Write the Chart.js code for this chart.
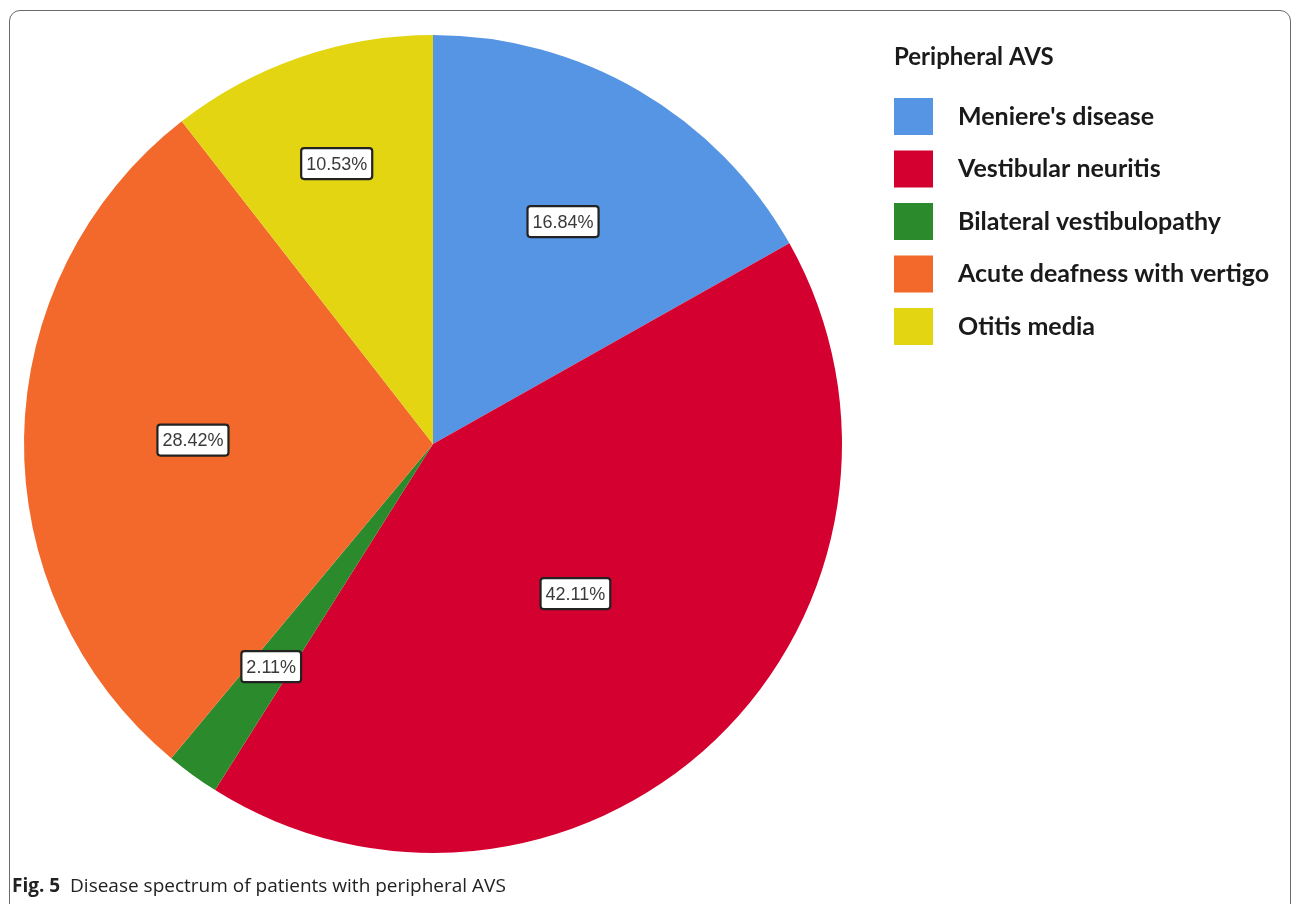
<!DOCTYPE html>
<html>
<head>
<meta charset="utf-8">
<script src="https://cdn.jsdelivr.net/npm/chart.js@4/dist/chart.umd.min.js"></script>
<style>
    html, body { margin: 0; padding: 0; background: #fff; }
    #wrap { position: relative; width: 1295px; height: 904px; overflow: hidden; }
    #frame {
        position: absolute; left: 9px; top: 10px; width: 1282px; height: 920px;
        border: 1.5px solid #6a6a6a; border-radius: 11px; box-sizing: border-box;
    }
    #chart { position: absolute; left: 0; top: 0; }
    #caption {
        position: absolute; left: 12px; top: 872px;
        font-family: "Open Sans", "Noto Sans", sans-serif; font-size: 19px; color: #222;
        white-space: pre;
    }
    #caption b { font-weight: 700; }
</style>
</head>
<body>
<div id="wrap">
    <div id="frame"></div>
    <canvas id="chart" width="1295" height="904"></canvas>
    <div id="caption"><b>Fig. 5</b>  Disease spectrum of patients with peripheral AVS</div>
</div>
<script>
const LEGEND_TITLE = 'Peripheral AVS'
const categories = ['Meniere\'s disease', 'Vestibular neuritis', 'Bilateral vestibulopathy', 'Acute deafness with vertigo', 'Otitis media']
const percents = [16.84, 42.11, 2.11, 28.42, 10.53]
const labelsText = ['16.84%', '42.11%', '2.11%', '28.42%', '10.53%']

const colors = ['#5595e3', '#d4002f', '#2b8a2b', '#f2692b', '#e3d512']
// how far out (fraction of radius) each value box sits
const labelRadius = [0.63, 0.505, 0.673, 0.587, 0.725]

// boxed percentage labels on the slices
const boxLabels = {
    id: 'boxLabels',
    afterDatasetsDraw(chart) {
        const ctx = chart.ctx
        const meta = chart.getDatasetMeta(0)
        ctx.save()
        ctx.font = '18px "Liberation Sans", Arial, sans-serif'
        ctx.textAlign = 'center'
        ctx.textBaseline = 'middle'
        meta.data.forEach((arc, i) => {
            const p = arc.getProps(['x', 'y', 'startAngle', 'endAngle', 'outerRadius'], true)
            const mid = (p.startAngle + p.endAngle) / 2
            const cx = p.x + Math.cos(mid) * p.outerRadius * labelRadius[i]
            const cy = p.y + Math.sin(mid) * p.outerRadius * labelRadius[i]
            const txt = labelsText[i]
            const w = ctx.measureText(txt).width + 10
            const h = 31
            ctx.beginPath()
            ctx.roundRect(cx - w / 2, cy - h / 2, w, h, 3)
            ctx.fillStyle = '#fff'
            ctx.fill()
            ctx.lineWidth = 2.2
            ctx.strokeStyle = '#222'
            ctx.stroke()
            ctx.fillStyle = '#3a3a3a'
            ctx.fillText(txt, cx, cy + 1)
        })
        ctx.restore()
    }
}

// legend on the right side
const sideLegend = {
    id: 'sideLegend',
    afterDraw(chart) {
        const ctx = chart.ctx
        const x0 = 894, top = 98, step = 52.5
        ctx.save()
        ctx.textBaseline = 'middle'
        ctx.textAlign = 'left'
        ctx.fillStyle = '#1a1a1a'
        ctx.font = 'bold 24px Lato, sans-serif'
        ctx.fillText(LEGEND_TITLE, x0, 57)
        ctx.font = 'bold 25px Lato, sans-serif'
        chart.data.labels.forEach((lab, i) => {
            const y = top + i * step
            ctx.fillStyle = chart.data.datasets[0].backgroundColor[i]
            ctx.fillRect(x0, y, 39, 37)
            ctx.fillStyle = '#1a1a1a'
            ctx.fillText(lab, 958, y + 18.5)
        })
        ctx.restore()
    }
}

new Chart('chart', {
    type: 'pie',
    data: {
        labels: categories,
        datasets: [{
            data: percents,
            backgroundColor: colors,
            borderWidth: 0
        }]
    },
    options: {
        responsive: false,
        animation: false,
        layout: { padding: { left: 24, right: 453, top: 35, bottom: 51 } },
        plugins: {
            legend: { display: false },
            tooltip: { enabled: false }
        }
    },
    plugins: [boxLabels, sideLegend]
})
</script>
</body>
</html>
